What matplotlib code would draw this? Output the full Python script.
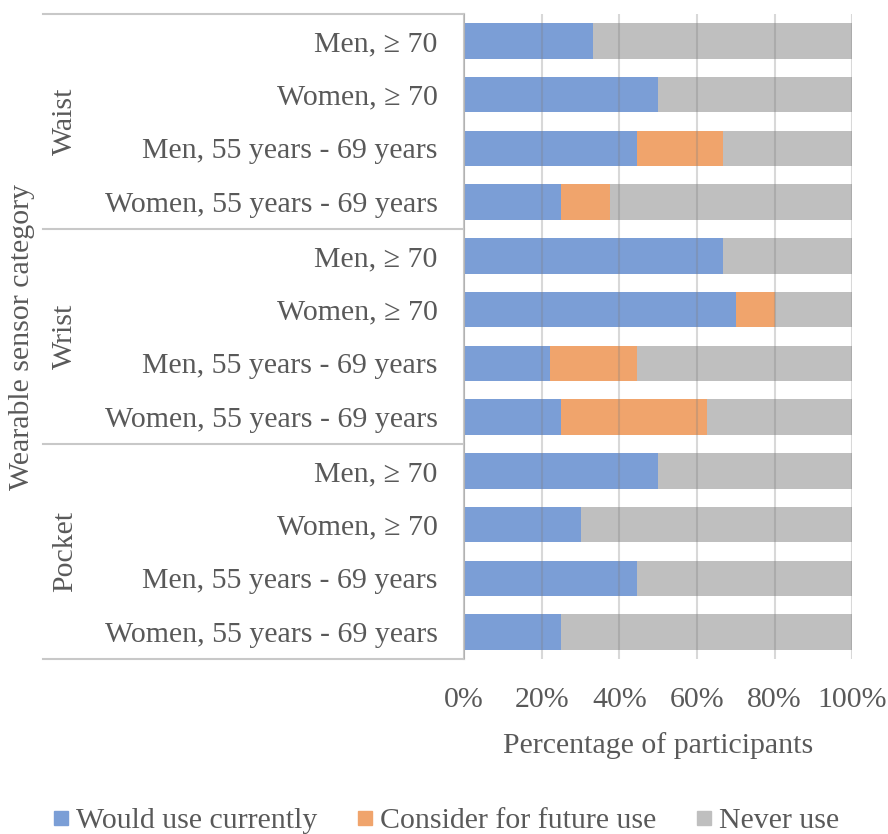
import matplotlib.pyplot as plt
import numpy as np
from matplotlib.lines import Line2D

# Stacked horizontal bars, Excel-style grouped category axis
plt.rcParams['font.family'] = ['Liberation Serif', 'DejaVu Serif']

groups = ['Waist', 'Wrist', 'Pocket']
subgroups = ['Men, \u2265 70', 'Women, \u2265 70',
             'Men, 55 years - 69 years', 'Women, 55 years - 69 years']
would_use = [33.3, 50.0, 44.4, 25.0, 66.7, 70.0, 22.2, 25.0, 50.0, 30.0, 44.4, 25.0]
consider = [0.0, 0.0, 22.2, 12.5, 0.0, 10.0, 22.2, 37.5, 0.0, 0.0, 0.0, 0.0]
never_use = [66.7, 50.0, 33.4, 62.5, 33.3, 20.0, 55.6, 37.5, 50.0, 70.0, 55.6, 75.0]
series_names = ['Would use currently', 'Consider for future use', 'Never use']
colors = ['#7b9ed6', '#f0a46c', '#bfbfbf']
text_col = '#595959'
line_col = '#c8c8c8'
fs = 21.5

labels = subgroups * len(groups)
y = np.arange(len(labels))

fig = plt.figure(figsize=(8.88, 8.34), dpi=100)
ax = fig.add_axes([0.5228, 0.2098, 0.4369, 0.7734])

left = np.zeros(len(y))
for vals, c in zip([would_use, consider, never_use], colors):
    ax.barh(y, vals, left=left, height=0.66, color=c, zorder=2)
    left += np.array(vals)

ax.set_ylim(len(y) - 0.5, -0.5)
ax.set_xlim(0, 100)
ax.set_xticks([0, 20, 40, 60, 80, 100])
ax.set_xticklabels(['0%', '20%', '40%', '60%', '80%', '100%'])
ax.set_yticks(y)
ax.set_yticklabels(labels)
ax.tick_params(axis='both', length=0, labelsize=fs, labelcolor=text_col)
ax.tick_params(axis='y', pad=19)
ax.tick_params(axis='x', pad=20)

ax.grid(axis='x', color='#808080', alpha=0.3, linewidth=1.5, zorder=3)
ax.set_axisbelow(False)
for s in ['top', 'right', 'bottom']:
    ax.spines[s].set_visible(False)
ax.spines['left'].set_color(line_col)
ax.spines['left'].set_linewidth(1.5)

ax.set_xlabel('Percentage of participants', fontsize=fs, color=text_col, labelpad=14)

# group separators and group labels on the left
trans = ax.get_yaxis_transform()
x_start = -1.087
for b in np.arange(len(groups) + 1) * len(subgroups) - 0.5:
    ax.plot([x_start, 0], [b, b], color=line_col, lw=1.5, transform=trans, clip_on=False)
for i, g in enumerate(groups):
    mid = i * len(subgroups) + (len(subgroups) - 1) / 2
    ax.text(-1.03, mid, g, rotation=90, ha='center', va='center',
            fontsize=fs, color=text_col, transform=trans)
ax.text(-1.14, (len(y) - 1) / 2, 'Wearable sensor category', rotation=90,
        ha='center', va='center', fontsize=fs, color=text_col, transform=trans)

handles = [Line2D([], [], marker='s', linestyle='none', markersize=10,
                  markerfacecolor=c, markeredgecolor=c) for c in colors]
fig.legend(handles, series_names, loc='center', bbox_to_anchor=(0.5, 0.016),
           ncol=3, frameon=False, fontsize=fs, labelcolor=text_col,
           handletextpad=0.1, columnspacing=1.2, handlelength=0.8)

plt.savefig('out.png', dpi=100)
